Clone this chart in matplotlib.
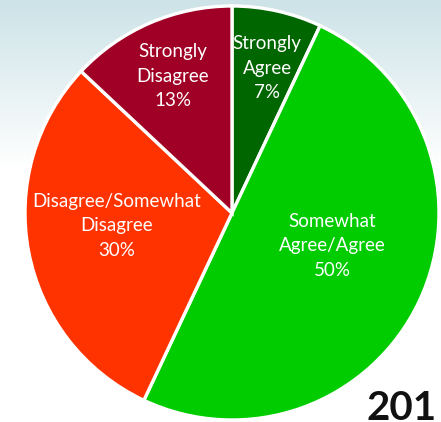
import numpy as np
import matplotlib
matplotlib.use("Agg")
import matplotlib.pyplot as plt
from matplotlib.colors import LinearSegmentedColormap

categories = ["Strongly\nAgree", "Somewhat\nAgree/Agree", "Disagree/Somewhat\nDisagree", "Strongly\nDisagree"]
values = [7, 50, 30, 13]
colors = ["#006600", "#00cc00", "#ff3300", "#a00025"]
label_radius = [0.72, 0.51, 0.56, 0.72]
label_turn = [1, -7, 4.5, 0]   # clockwise nudge of each label from its wedge's mid-angle, degrees
year_text = "201"

W, H = 441, 422
fig = plt.figure(figsize=(W / 100, H / 100), dpi=100)
ax = fig.add_axes([0, 0, 1, 1])

# soft blue wash fading to white toward the middle
grad = np.linspace(0, 1, 256).reshape(-1, 1)
cmap = LinearSegmentedColormap.from_list("wash", [(0.0, "#cde3e8"), (0.4, "#ffffff"), (1.0, "#ffffff")])
ax.imshow(grad, cmap=cmap, aspect="auto", extent=(0, W, 0, H), origin="upper", zorder=0)

cx, cy, R = 232, 209, 207
wedges, _ = ax.pie(values, colors=colors, startangle=90, counterclock=False,
                   center=(cx, cy), radius=R,
                   wedgeprops=dict(edgecolor="white", linewidth=2.4))
for w in wedges:
    w.set_zorder(2)

font = ["Lato", "DejaVu Sans"]
for w, cat, v, rf, turn in zip(wedges, categories, values, label_radius, label_turn):
    mid = np.deg2rad((w.theta1 + w.theta2) / 2 - turn)
    x = cx + rf * R * np.cos(mid)
    y = cy + rf * R * np.sin(mid)
    ax.text(x, y, f"{cat}\n{v}%", ha="center", va="center", color="white",
            fontsize=13.5, family=font, linespacing=1.55, zorder=3)

ax.text(437, 2, year_text, ha="right", va="baseline", fontsize=29, fontweight="bold",
        family=font, color="#111111", zorder=3)

ax.set_xlim(0, W)
ax.set_ylim(0, H)
ax.set_aspect("auto")
ax.axis("off")
fig.savefig("out.png", dpi=100)
